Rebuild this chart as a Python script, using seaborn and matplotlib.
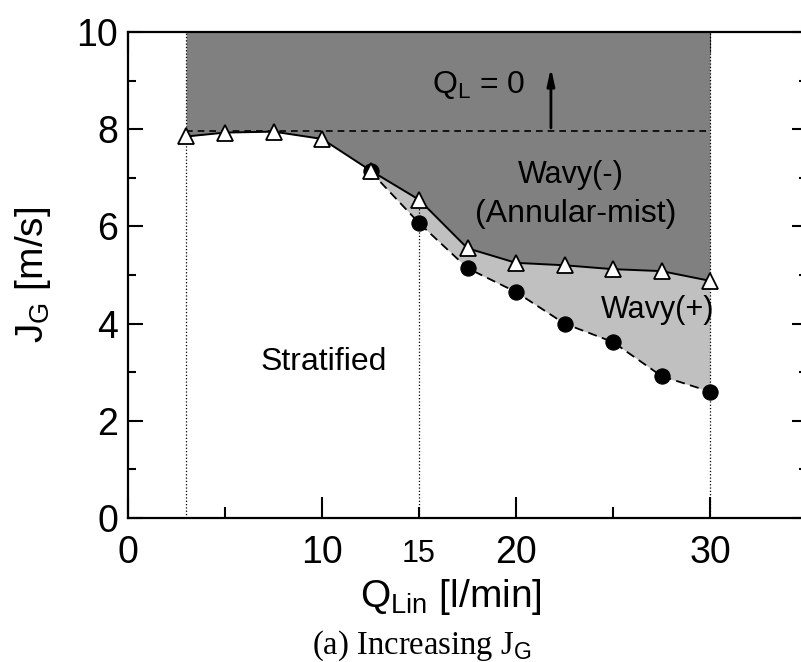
import matplotlib
matplotlib.use("Agg")
import matplotlib.pyplot as plt
import seaborn as sns
import numpy as np
import pandas as pd
from matplotlib.ticker import FixedLocator, FixedFormatter

# ---- data ----
q_tri = [3, 5, 7.5, 10, 12.5, 15, 17.5, 20, 22.5, 25, 27.5, 30]
jg_tri = [7.85, 7.93, 7.95, 7.8, 7.15, 6.55, 5.55, 5.25, 5.2, 5.12, 5.08, 4.88]
q_circ = [12.5, 15, 17.5, 20, 22.5, 25, 27.5, 30]
jg_circ = [7.13, 6.07, 5.14, 4.65, 4.0, 3.62, 2.92, 2.6]
ql0_level = 7.97
x_major = [0, 10, 20, 30]
x_major_labels = ["0", "10", "20", "30"]
x_minor = [5, 15, 25]
x_minor_labels = ["", "15", ""]
y_major = [0, 2, 4, 6, 8, 10]
y_minor = [1, 3, 5, 7, 9]

sns.set_style("ticks")
plt.rcParams["font.family"] = ["Liberation Sans", "DejaVu Sans"]
plt.rcParams["mathtext.fontset"] = "custom"
plt.rcParams["mathtext.rm"] = "Liberation Sans"
plt.rcParams["mathtext.it"] = "Liberation Sans:italic"
plt.rcParams["mathtext.sf"] = "Liberation Sans"
plt.rcParams["mathtext.bf"] = "Liberation Sans:bold"
for k in ["text.color", "axes.labelcolor", "xtick.color", "ytick.color", "axes.edgecolor"]:
    plt.rcParams[k] = "black"

W, H = 801, 662
fig = plt.figure(figsize=(W / 100, H / 100), dpi=100)
ax = fig.add_axes([128 / W, 1 - 518 / H, 679 / W, 486 / H])

# regions
ax.fill_between(q_tri, jg_tri, 10, color="#808080", lw=0, zorder=1)
ax.fill_between(q_circ, jg_circ, jg_tri[4:], color="#c0c0c0", lw=0, zorder=1)

# dotted vertical guides
ax.plot([3, 3], [0, 10], ls=":", color="black", lw=0.9, zorder=2)
ax.plot([15, 15], [0, jg_tri[5]], ls=":", color="black", lw=0.9, zorder=2)
ax.plot([30, 30], [0, 10], ls=":", color="black", lw=0.9, zorder=2)

# Q_L = 0 dashed level
ax.plot([3, 30], [ql0_level, ql0_level], ls=(0, (4, 3)), color="black", lw=1.2, zorder=3)

# boundaries
sns.lineplot(x=q_circ, y=jg_circ, ax=ax, color="black", lw=1.3, linestyle=(0, (5, 3)),
             marker="o", markersize=11, markerfacecolor="black", markeredgecolor="black",
             zorder=4)
sns.lineplot(x=q_tri, y=jg_tri, ax=ax, color="black", lw=1.4, marker="^", markersize=12,
             markerfacecolor="white", markeredgecolor="black", markeredgewidth=1.3,
             zorder=5)

# arrow
ax.annotate("", xy=(21.8, 9.32), xytext=(21.8, ql0_level),
            arrowprops=dict(arrowstyle="-|>,head_length=1.0,head_width=0.22",
                            color="black", lw=2), zorder=6)

# texts
ax.text(15.65, 8.74, r"$\mathregular{Q_L}$ = 0", fontsize=23, ha="left", va="baseline")
ax.text(22.8, 6.89, "Wavy(-)", fontsize=22, ha="center", va="baseline")
ax.text(23.1, 6.09, "(Annular-mist)", fontsize=23, ha="center", va="baseline")
ax.text(27.3, 4.12, "Wavy(+)", fontsize=22, ha="center", va="baseline")
ax.text(10.1, 3.05, "Stratified", fontsize=23, ha="center", va="baseline")

# axes
ax.set_xlim(0, 35)
ax.set_ylim(0, 10)
ax.xaxis.set_major_locator(FixedLocator(x_major))
ax.xaxis.set_major_formatter(FixedFormatter(x_major_labels))
ax.xaxis.set_minor_locator(FixedLocator(x_minor))
ax.xaxis.set_minor_formatter(FixedFormatter(x_minor_labels))
ax.yaxis.set_major_locator(FixedLocator(y_major))
ax.yaxis.set_minor_locator(FixedLocator(y_minor))

ax.tick_params(which="both", direction="in", top=True, right=True, width=1.5,
               color="black", labelcolor="black")
ax.tick_params(axis="x", which="major", length=15, labelsize=27, pad=12)
ax.tick_params(axis="x", which="minor", length=8, labelsize=22, pad=15)
ax.tick_params(axis="y", which="major", length=11, labelsize=27, pad=7)
ax.tick_params(axis="y", which="minor", length=6)
for s in ax.spines.values():
    s.set_linewidth(1.6)
    s.set_color("black")
    s.set_visible(True)
ax.set_xlabel("")
ax.set_ylabel("")

fig.text(33 / W, 1 - 275 / H, r"$\mathregular{J_G}$ [m/s]", rotation=90, fontsize=28,
         ha="center", va="center")
fig.text(451 / W, 1 - 607 / H, r"$\mathregular{Q_{Lin}}$ [l/min]", fontsize=28,
         ha="center", va="baseline")
fig.text(422 / W, 1 - 654 / H, r"(a) Increasing J$\mathsf{_G}$", fontsize=23.5,
         ha="center", va="baseline", family=["Liberation Serif", "DejaVu Serif"])

fig.savefig("out.png", dpi=100)
